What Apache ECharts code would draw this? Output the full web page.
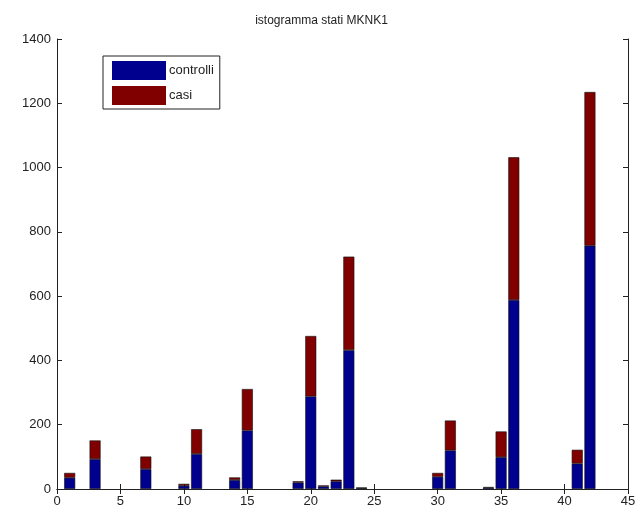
<!DOCTYPE html>
<html><head><meta charset="utf-8">
<script src="https://cdn.jsdelivr.net/npm/echarts@6/dist/echarts.min.js"></script>
<style>html,body{margin:0;padding:0;background:#fff}#c{width:643px;height:515px}</style>
</head><body><div id="c"></div>
<script>
var positions = [1,3,7,10,11,14,15,19,20,21,22,23,24,30,31,34,35,36,41,42];
var controlli = [35,93,62,10,109,28,182,20,288,8,24,432,3,38,120,4,99,588,79,757];
var casi      = [15,58,39,6,77,8,129,4,188,3,5,291,1,12,93,2,80,444,43,478];
var xTicks = [0,5,10,15,20,25,30,35,40,45];
var yTicks = [0,200,400,600,800,1000,1200,1400];

var xMax = xTicks[xTicks.length-1];
var cats = [];
for (var k = 0; k <= xMax; k++) cats.push(String(k));
function spread(vals){
  var arr = cats.map(function(){ return null; });
  positions.forEach(function(p,i){ arr[p] = vals[i]; });
  return arr;
}

var chart = echarts.init(document.getElementById('c'));
var font = 'Liberation Sans, Arial, sans-serif';
var lineCol = '#222';
chart.setOption({
  animation:false,
  title:{text:'istogramma stati MKNK1',left:'center',top:10,
    textStyle:{fontFamily:font,fontSize:12,fontWeight:'normal',color:'#222'}},
  legend:{orient:'vertical',left:103,top:56,itemWidth:54,itemHeight:19,itemGap:6,
    icon:'rect',padding:[5,6,4,9],borderColor:'#222',borderWidth:1,borderRadius:0,backgroundColor:'#fff',
    itemStyle:{borderWidth:0},
    textStyle:{fontFamily:font,fontSize:13,color:'#222',padding:[0,0,0,-2]},
    data:['controlli','casi']},
  grid:{left:57,right:15,top:39,bottom:26},
  xAxis:[
    {type:'category',data:cats,boundaryGap:false,
      axisLine:{show:true,lineStyle:{color:lineCol}},
      axisTick:{show:true,inside:true,length:5,interval:4,lineStyle:{color:lineCol}},
      axisLabel:{interval:4,fontFamily:font,fontSize:13,color:'#222',margin:6},
      splitLine:{show:false}},
    {type:'value',position:'top',min:0,max:xMax,interval:5,
      axisLine:{show:true,lineStyle:{color:lineCol}},
      axisTick:{show:true,inside:true,length:5,lineStyle:{color:lineCol}},
      axisLabel:{show:false},splitLine:{show:false}}
  ],
  yAxis:[
    {type:'value',min:yTicks[0],max:yTicks[yTicks.length-1],interval:200,
      axisLine:{show:true,lineStyle:{color:lineCol}},
      axisTick:{show:true,inside:true,length:5,lineStyle:{color:lineCol}},
      axisLabel:{fontFamily:font,fontSize:13,color:'#222',margin:6,formatter:function(v){return String(v);}},
      splitLine:{show:false}},
    {type:'value',position:'right',min:0,max:1400,interval:200,
      axisLine:{show:true,lineStyle:{color:lineCol}},
      axisTick:{show:true,inside:true,length:5,lineStyle:{color:lineCol}},
      axisLabel:{show:false},splitLine:{show:false}}
  ],
  series:[
    {name:'controlli',type:'bar',stack:'s',barWidth:11,data:spread(controlli),
      itemStyle:{color:'#00008f',borderColor:'#111',borderWidth:0.6}},
    {name:'casi',type:'bar',stack:'s',barWidth:11,data:spread(casi),
      itemStyle:{color:'#800000',borderColor:'#111',borderWidth:0.6}}
  ]
});
</script></body></html>
